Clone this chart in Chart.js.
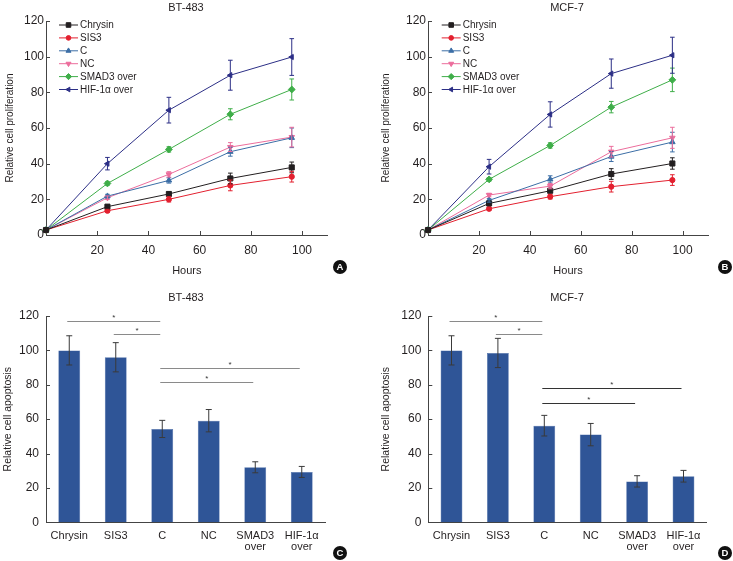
<!DOCTYPE html>
<html><head><meta charset="utf-8">
<script src="https://cdn.jsdelivr.net/npm/chart.js@4"></script>
<style>
body{margin:0;background:#fff;}
#wrap{position:relative;width:733px;height:561px;overflow:hidden;font-family:'Liberation Sans',Arial,sans-serif;color:#231f20}
.pane{position:absolute}
.t{position:absolute;font-size:11px;transform:translate(-50%,-50%);white-space:nowrap;color:#231f20}
.badge{position:absolute;width:14px;height:14px;border-radius:50%;background:#111;color:#fff;font-weight:bold;font-size:9.5px;line-height:14px;text-align:center;transform:translate(-50%,-50%)}
</style></head>
<body>
<div id="wrap">
  <canvas id="cA" class="pane" width="365" height="280" style="left:0;top:0"></canvas>
  <canvas id="cB" class="pane" width="368" height="280" style="left:365px;top:0"></canvas>
  <canvas id="cC" class="pane" width="365" height="281" style="left:0;top:280px"></canvas>
  <canvas id="cD" class="pane" width="368" height="281" style="left:365px;top:280px"></canvas>
  <div class="t" style="left:186px;top:7px">BT-483</div>
  <div class="t" style="left:567px;top:7px">MCF-7</div>
  <div class="t" style="left:186px;top:297px">BT-483</div>
  <div class="t" style="left:567px;top:297px">MCF-7</div>
  <div class="badge" style="left:340px;top:267px">A</div>
  <div class="badge" style="left:725px;top:267px">B</div>
  <div class="badge" style="left:340px;top:553px">C</div>
  <div class="badge" style="left:725px;top:553px">D</div>
</div>
<script>
// ---------- data ----------
const hours = [0, 24, 48, 72, 96];
const hourTicks = [20, 40, 60, 80, 100];
const valueTicks = [0, 20, 40, 60, 80, 100, 120];
const seriesNames = ['Chrysin', 'SIS3', 'C', 'NC', 'SMAD3 over', 'HIF-1\u03b1 over'];

// BT-483 proliferation
const btChrysin = [2.8, 15.9, 23.0, 31.7, 37.9];
const btSIS3    = [2.8, 13.6, 20.0, 27.8, 32.7];
const btC       = [2.8, 21.8, 30.6, 46.7, 54.5];
const btNC      = [2.8, 20.9, 34.0, 49.3, 54.9];
const btSMAD3   = [2.8, 28.9, 48.0, 67.7, 81.6];
const btHIF     = [2.8, 40.0, 70.0, 89.6, 99.8];
const btChrysinErr = [0, 0.8, 1.0, 3.0, 3.0];
const btSIS3Err    = [0, 0.8, 1.5, 3.0, 3.0];
const btCErr       = [0, 1.0, 1.5, 2.5, 5.5];
const btNCErr      = [0, 1.0, 1.5, 2.5, 5.5];
const btSMAD3Err   = [0, 1.0, 1.5, 3.1, 5.9];
const btHIFErr     = [0, 3.5, 7.2, 8.4, 10.3];

// MCF-7 proliferation
const mcfChrysin = [2.8, 17.7, 24.8, 34.2, 40.1];
const mcfSIS3    = [2.8, 14.7, 21.5, 27.1, 30.8];
const mcfC       = [2.8, 19.4, 31.2, 44.0, 52.1];
const mcfNC      = [2.8, 22.4, 27.4, 46.7, 54.5];
const mcfSMAD3   = [2.8, 31.2, 50.2, 71.7, 87.0];
const mcfHIF     = [2.8, 38.3, 67.6, 90.5, 100.8];
const mcfChrysinErr = [0, 0.8, 1.0, 3.0, 3.2];
const mcfSIS3Err    = [0, 0.8, 1.3, 3.0, 3.0];
const mcfCErr       = [0, 1.0, 2.0, 2.8, 5.5];
const mcfNCErr      = [0, 1.0, 1.5, 3.0, 5.9];
const mcfSMAD3Err   = [0, 1.0, 1.5, 3.2, 6.6];
const mcfHIFErr     = [0, 4.1, 7.1, 8.2, 10.1];

// apoptosis
const groups = ['Chrysin', 'SIS3', 'C', 'NC', ['SMAD3', 'over'], ['HIF-1\u03b1', 'over']];
const btApoptosis     = [100, 96, 54.3, 59.1, 32, 29.3];
const btApoptosisErr  = [8.5, 8.5, 5, 6.5, 3.2, 3.2];
const mcfApoptosis    = [100, 98.5, 56.2, 51, 23.8, 26.8];
const mcfApoptosisErr = [8.5, 8.5, 6, 6.5, 3.3, 3.4];

// significance brackets: [from group, to group, height]
const btSig  = [[0, 2, 117], [1, 2, 109.5], [2, 5, 90], [2, 4, 81.5]];
const mcfSig = [[0, 2, 117], [1, 2, 109.5], [2, 5, 78], [2, 4, 69.3]];

// ---------- styles ----------
const FONT = "'Liberation Sans', Arial, sans-serif";
const INK = '#231f20';
const seriesColors = ['#231f20', '#e3202f', '#3c6ea6', '#ec6d9c', '#3fae49', '#2c2f86'];
const seriesShapes = ['rect', 'circle', 'triangle', 'triangle', 'rectRot', 'triangle'];
const seriesRot = [0, 0, 0, 180, 0, -90];
const seriesRadius = [3.6, 2.6, 3.2, 3.2, 3.4, 3.0];

// ---------- plugins ----------
function drawMarker(ctx, shape, rot, r, x, y, color) {
  ctx.save();
  ctx.translate(x, y);
  ctx.rotate(rot * Math.PI / 180);
  ctx.fillStyle = color; ctx.strokeStyle = color; ctx.lineWidth = 1;
  ctx.beginPath();
  if (shape === 'rect') { const s = r * Math.SQRT1_2; ctx.rect(-s, -s, 2 * s, 2 * s); }
  else if (shape === 'circle') { ctx.arc(0, 0, r, 0, Math.PI * 2); }
  else if (shape === 'rectRot') { ctx.moveTo(0, -r); ctx.lineTo(r, 0); ctx.lineTo(0, r); ctx.lineTo(-r, 0); ctx.closePath(); }
  else if (shape === 'triangle') {
    for (let k = 0; k < 3; k++) { const a = -Math.PI / 2 + k * 2 * Math.PI / 3; const px = r * Math.cos(a), py = r * Math.sin(a); k ? ctx.lineTo(px, py) : ctx.moveTo(px, py); }
    ctx.closePath();
  }
  ctx.fill(); ctx.stroke();
  ctx.restore();
}

const errBarsPlugin = {
  id: 'errBars',
  afterDatasetsDraw(chart, args, opts) {
    const ctx = chart.ctx, ys = chart.scales.y;
    chart.data.datasets.forEach((ds, i) => {
      const meta = chart.getDatasetMeta(i);
      const errs = opts.errs[i];
      ds.data.forEach((d, j) => {
        const e = errs[j];
        if (!e) return;
        const v = typeof d === 'object' ? d.y : d;
        const x = meta.data[j].x;
        const y1 = ys.getPixelForValue(v - e), y2 = ys.getPixelForValue(v + e);
        ctx.save();
        ctx.strokeStyle = opts.color || ds.borderColor;
        ctx.lineWidth = 1;
        ctx.beginPath();
        ctx.moveTo(x, y1); ctx.lineTo(x, y2);
        ctx.moveTo(x - opts.cap, y1); ctx.lineTo(x + opts.cap, y1);
        ctx.moveTo(x - opts.cap, y2); ctx.lineTo(x + opts.cap, y2);
        ctx.stroke();
        ctx.restore();
      });
    });
  }
};

const inTicksPlugin = {
  id: 'inTicks',
  afterDraw(chart, args, opts) {
    const ctx = chart.ctx, a = chart.chartArea;
    ctx.save();
    ctx.strokeStyle = '#444'; ctx.lineWidth = 1;
    ctx.beginPath();
    (opts.y || []).forEach(v => { const y = Math.round(chart.scales.y.getPixelForValue(v)) + 0.5; ctx.moveTo(a.left, y); ctx.lineTo(a.left + opts.len, y); });
    (opts.x || []).forEach(v => { const x = Math.round(chart.scales.x.getPixelForValue(v)) + 0.5; ctx.moveTo(x, a.bottom); ctx.lineTo(x, a.bottom - opts.len); });
    ctx.stroke();
    ctx.restore();
  }
};

const legendPlugin = {
  id: 'boxLegend',
  afterDraw(chart, args, opts) {
    if (!opts.x) return;
    const ctx = chart.ctx;
    chart.data.datasets.forEach((ds, i) => {
      const y = opts.y + i * opts.step;
      ctx.save();
      ctx.strokeStyle = ds.borderColor; ctx.lineWidth = 1;
      ctx.beginPath(); ctx.moveTo(opts.x, y); ctx.lineTo(opts.x + 19, y); ctx.stroke();
      drawMarker(ctx, seriesShapes[i], seriesRot[i], seriesRadius[i] * 0.9, opts.x + 9.5, y, ds.borderColor);
      ctx.fillStyle = INK; ctx.font = '10px ' + FONT; ctx.textBaseline = 'middle';
      ctx.fillText(ds.label, opts.x + 21, y + 0.5);
      ctx.restore();
    });
  }
};

const sigPlugin = {
  id: 'sig',
  afterDraw(chart, args, opts) {
    if (!opts.pairs) return;
    const ctx = chart.ctx, xs = chart.scales.x, ys = chart.scales.y;
    opts.pairs.forEach((p, k) => {
      const x1 = xs.getPixelForValue(p[0]) - 2, x2 = xs.getPixelForValue(p[1]) - 2;
      const y = Math.round(ys.getPixelForValue(p[2])) + 0.5;
      ctx.save();
      ctx.strokeStyle = opts.colors[k]; ctx.lineWidth = 1;
      ctx.beginPath(); ctx.moveTo(x1, y); ctx.lineTo(x2, y); ctx.stroke();
      ctx.fillStyle = '#333'; ctx.font = '8px ' + FONT; ctx.textAlign = 'center'; ctx.textBaseline = 'middle';
      ctx.fillText('*', (x1 + x2) / 2, y - 4);
      ctx.restore();
    });
  }
};

function fixTicks(list) { return s => { s.ticks = list.map(v => ({ value: v })); }; }

function lineChart(id, sets, errs, o) {
  return new Chart(document.getElementById(id), {
    type: 'line',
    data: {
      datasets: sets.map((vals, i) => ({
        label: seriesNames[i],
        data: hours.map((h, j) => ({ x: h, y: vals[j] })),
        borderColor: seriesColors[i], backgroundColor: seriesColors[i],
        borderWidth: 1, pointStyle: seriesShapes[i], pointRotation: seriesRot[i],
        pointRadius: seriesRadius[i], pointBorderWidth: 1, tension: 0, clip: false
      }))
    },
    options: {
      responsive: false, animation: false, events: [],
      layout: { padding: { left: o.padL, top: 21, right: o.padR, bottom: 0 } },
      plugins: {
        legend: { display: false }, tooltip: { enabled: false },
        errBars: { errs: errs, cap: 2.3 },
        inTicks: { x: hourTicks, y: valueTicks, len: 4 },
        boxLegend: { x: o.legX, y: 25, step: 12.9 }
      },
      scales: {
        x: {
          type: 'linear', min: 0, max: 110,
          afterBuildTicks: fixTicks(hourTicks), afterFit: s => { s.height = 45; },
          grid: { display: false, drawTicks: false }, border: { display: true, color: '#444', width: 1 },
          ticks: { padding: 8, color: INK, font: { family: FONT, size: 12 }, maxRotation: 0, autoSkip: false },
          title: { display: true, text: 'Hours', color: INK, font: { family: FONT, size: 11 }, padding: { top: 0, bottom: 2 } }
        },
        y: {
          min: 0, max: 120,
          afterBuildTicks: fixTicks(valueTicks), afterFit: s => { s.width = o.yW; },
          grid: { display: false, drawTicks: false }, border: { display: true, color: '#444', width: 1 },
          ticks: { padding: 2, color: INK, font: { family: FONT, size: 12 }, autoSkip: false },
          title: { display: true, text: 'Relative cell proliferation', color: INK, font: { family: FONT, size: 10 }, padding: { top: 4, bottom: 0 } }
        }
      }
    },
    plugins: [errBarsPlugin, inTicksPlugin, legendPlugin]
  });
}

function barChart(id, vals, errs, sig, sigColors, o) {
  return new Chart(document.getElementById(id), {
    type: 'bar',
    data: { labels: groups, datasets: [{ data: vals, backgroundColor: '#2f5597', borderColor: '#4468a6', borderWidth: 0.5, barPercentage: 0.47, categoryPercentage: 1 }] },
    options: {
      responsive: false, animation: false, events: [],
      layout: { padding: { left: o.padL, top: 36, right: o.padR, bottom: 0 } },
      plugins: {
        legend: { display: false }, tooltip: { enabled: false },
        errBars: { errs: [errs], cap: 3, color: '#3a3a3a' },
        inTicks: { y: valueTicks, len: 4 },
        sig: { pairs: sig, colors: sigColors }
      },
      scales: {
        x: {
          afterFit: s => { s.height = 38.7; },
          grid: { display: false, drawTicks: false }, border: { display: true, color: '#444', width: 1 },
          ticks: { padding: 8, color: INK, font: { family: FONT, size: 11, lineHeight: 0.98 }, maxRotation: 0, autoSkip: false }
        },
        y: {
          min: 0, max: 120,
          afterBuildTicks: fixTicks(valueTicks), afterFit: s => { s.width = o.yW; },
          grid: { display: false, drawTicks: false }, border: { display: true, color: '#444', width: 1 },
          ticks: { padding: o.tickPad, color: INK, font: { family: FONT, size: 12 }, autoSkip: false },
          title: { display: true, text: 'Relative cell apoptosis', color: INK, font: { family: FONT, size: 10.5 }, padding: { top: o.titlePad, bottom: 0 } }
        }
      }
    },
    plugins: [errBarsPlugin, inTicksPlugin, sigPlugin]
  });
}

lineChart('cA', [btChrysin, btSIS3, btC, btNC, btSMAD3, btHIF],
  [btChrysinErr, btSIS3Err, btCErr, btNCErr, btSMAD3Err, btHIFErr],
  { padL: 0, yW: 46, padR: 37.4, legX: 59 });
lineChart('cB', [mcfChrysin, mcfSIS3, mcfC, mcfNC, mcfSMAD3, mcfHIF],
  [mcfChrysinErr, mcfSIS3Err, mcfCErr, mcfNCErr, mcfSMAD3Err, mcfHIFErr],
  { padL: 11, yW: 52, padR: 25, legX: 76.7 });
barChart('cC', btApoptosis, btApoptosisErr, btSig, ['#8a8a8a', '#8a8a8a', '#8a8a8a', '#8a8a8a'],
  { padL: 0, yW: 46, padR: 40, tickPad: 7, titlePad: 2 });
barChart('cD', mcfApoptosis, mcfApoptosisErr, mcfSig, ['#8a8a8a', '#8a8a8a', '#333', '#333'],
  { padL: 11, yW: 52.3, padR: 26.3, tickPad: 7, titlePad: 4 });
</script>
</body></html>
